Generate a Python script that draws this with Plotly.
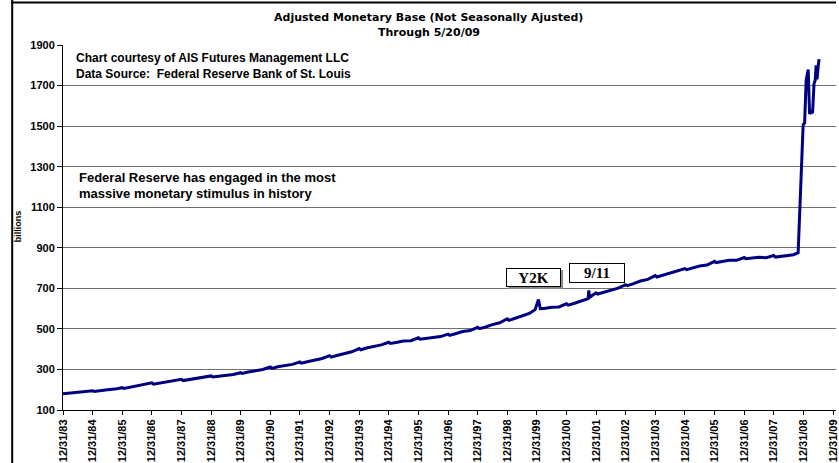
import plotly.graph_objects as go

# ---- data ----
dates = [
    "1983-12-31", "1984-03-31", "1984-06-30", "1984-09-30", "1984-12-31",
    "1985-01-20", "1985-03-31", "1985-06-30", "1985-09-30", "1985-12-31",
    "1986-01-20", "1986-03-31", "1986-06-30", "1986-09-30", "1986-12-31",
    "1987-01-20", "1987-03-31", "1987-06-30", "1987-09-30", "1987-12-31",
    "1988-01-20", "1988-03-31", "1988-06-30", "1988-09-30", "1988-12-31",
    "1989-01-20", "1989-03-31", "1989-06-30", "1989-09-30", "1989-12-31",
    "1990-01-20", "1990-03-31", "1990-06-30", "1990-09-30", "1990-12-31",
    "1991-01-20", "1991-03-31", "1991-06-30", "1991-09-30", "1991-12-31",
    "1992-01-20", "1992-03-31", "1992-06-30", "1992-09-30", "1992-12-31",
    "1993-01-20", "1993-03-31", "1993-06-30", "1993-09-30", "1993-12-31",
    "1994-01-20", "1994-03-31", "1994-06-30", "1994-09-30", "1994-12-31",
    "1995-01-20", "1995-03-31", "1995-06-30", "1995-09-30", "1995-12-31",
    "1996-01-20", "1996-03-31", "1996-06-30", "1996-09-30", "1996-12-31",
    "1997-01-20", "1997-03-31", "1997-06-30", "1997-09-30", "1997-12-31",
    "1998-01-20", "1998-03-31", "1998-06-30", "1998-09-30", "1998-12-31",
    "1999-01-20", "1999-03-31", "1999-06-30", "1999-09-30", "1999-12-10",
    "2000-01-20", "2000-02-12", "2000-03-31", "2000-06-30", "2000-09-30",
    "2000-12-31", "2001-01-20", "2001-03-31", "2001-06-30", "2001-09-24",
    "2001-10-02", "2001-10-12", "2001-10-31", "2001-12-31", "2002-01-20",
    "2002-03-31", "2002-06-30", "2002-09-30", "2002-12-31", "2003-01-20",
    "2003-03-31", "2003-06-30", "2003-09-30", "2003-12-31", "2004-01-20",
    "2004-03-31", "2004-06-30", "2004-09-30", "2004-12-31", "2005-01-20",
    "2005-03-31", "2005-06-30", "2005-09-30", "2005-12-31", "2006-01-20",
    "2006-03-31", "2006-06-30", "2006-09-30", "2006-12-31", "2007-01-20",
    "2007-03-31", "2007-06-30", "2007-09-30", "2007-12-31", "2008-01-20",
    "2008-03-31", "2008-06-30", "2008-08-31", "2008-10-27", "2008-12-28",
    "2009-01-15", "2009-02-03", "2009-02-28", "2009-03-17", "2009-04-05",
    "2009-04-23", "2009-05-11", "2009-05-25", "2009-06-06", "2009-06-17",
    "2009-06-30", "2009-07-12",
]
values = [
    180, 183, 187, 189, 195,
    191, 196, 200, 203, 210,
    206, 212, 219, 224, 234,
    227, 232, 239, 242, 251,
    245, 250, 257, 260, 268,
    263, 266, 271, 275, 284,
    280, 287, 294, 300, 312,
    305, 313, 320, 325, 337,
    331, 338, 346, 354, 368,
    361, 369, 379, 387, 403,
    397, 406, 415, 421, 434,
    428, 433, 440, 442, 456,
    449, 453, 460, 462, 474,
    468, 476, 487, 492, 508,
    501, 508, 521, 530, 550,
    542, 551, 565, 576, 595,
    645, 600, 601, 607, 608,
    624, 617, 625, 638, 649,
    690, 655, 661, 678, 672,
    680, 692, 701, 718, 713,
    722, 736, 744, 763, 756,
    764, 776, 783, 797, 792,
    799, 810, 815, 833, 827,
    832, 838, 838, 852, 846,
    849, 853, 851, 862, 854,
    858, 860, 866, 876, 1507,
    1515, 1725, 1779, 1560, 1570,
    1565, 1710, 1725, 1800, 1730,
    1790, 1830,
]

tick_dates = [f"{y}-12-31" for y in range(1983, 2010)]
tick_labels = [f"12/31/{str(y)[2:]}" for y in range(1983, 2010)]
y_ticks = list(range(100, 2000, 200))

title_lines = ["Adjusted Monetary Base (Not Seasonally Ajusted)", "Through 5/20/09"]
note_lines = ["Chart courtesy of AIS Futures Management LLC",
              "Data Source:&nbsp; Federal Reserve Bank of St. Louis"]
comment_lines = ["Federal Reserve has engaged in the most",
                 "massive monetary stimulus in history"]

# ---- layout geometry (pixels) ----
W, H = 839, 463
L, R, T, B = 63, 839, 45, 410
FONT = "Liberation Sans, Arial, sans-serif"
WIDE = "DejaVu Sans, Liberation Sans, sans-serif"
SERIF = "Liberation Serif, Times New Roman, serif"


def px(x):
    return (x - L) / (R - L)


def py(y):
    return (B - y) / (B - T)


fig = go.Figure()
fig.add_trace(go.Scatter(x=dates, y=values, mode="lines",
                         line=dict(color="#000080", width=3),
                         hoverinfo="skip", showlegend=False))

annotations = []
for i, t in enumerate(title_lines):
    annotations.append(dict(x=px(430), y=py(18 + 15 * i), xref="paper", yref="paper",
                            text=t, showarrow=False, xanchor="center", yanchor="middle",
                            font=dict(family=WIDE, size=11, color="black", weight="bold")))
for i, t in enumerate(note_lines):
    annotations.append(dict(x=px(74), y=py(58 + 16 * i), xref="paper", yref="paper",
                            text=t, showarrow=False, xanchor="left", yanchor="middle",
                            font=dict(family=FONT, size=12, color="black", weight="bold")))
for i, t in enumerate(comment_lines):
    annotations.append(dict(x=px(77), y=py(178 + 15.5 * i), xref="paper", yref="paper",
                            text=t, showarrow=False, xanchor="left", yanchor="middle",
                            font=dict(family=FONT, size=13, color="black", weight="bold")))
annotations.append(dict(x=px(18), y=py(226), xref="paper", yref="paper", text="billions",
                        showarrow=False, textangle=-90, xanchor="center", yanchor="middle",
                        font=dict(family=FONT, size=9, color="black", weight="bold")))
annotations.append(dict(x=px(535.5), y=py(277.5), xref="paper", yref="paper", text="Y2K",
                        showarrow=False, xanchor="center", yanchor="middle",
                        width=51, height=15, borderpad=1, bordercolor="black", borderwidth=1,
                        bgcolor="white",
                        font=dict(family=SERIF, size=15, color="black", weight="bold")))
annotations.append(dict(x=px(599), y=py(273), xref="paper", yref="paper", text="9/11",
                        showarrow=False, xanchor="center", yanchor="middle",
                        width=52, height=16, borderpad=1, bordercolor="black", borderwidth=1,
                        bgcolor="white",
                        font=dict(family=SERIF, size=15, color="black", weight="bold")))

shapes = [
    dict(type="line", xref="paper", yref="paper", x0=px(12), x1=px(12), y0=py(0), y1=py(463),
         line=dict(color="black", width=2)),
    dict(type="line", xref="paper", yref="paper", x0=px(11), x1=px(839), y0=py(2.5), y1=py(2.5),
         line=dict(color="black", width=2)),
    # shadow of the Y2K box
    dict(type="line", xref="paper", yref="paper", x0=px(510), x1=px(564), y0=py(288), y1=py(288),
         line=dict(color="#888888", width=2)),
    dict(type="line", xref="paper", yref="paper", x0=px(564), x1=px(564), y0=py(270), y1=py(288),
         line=dict(color="#888888", width=2)),
]

fig.update_layout(
    width=W, height=H,
    margin=dict(l=L, r=W - R, t=T, b=H - B, pad=0),
    paper_bgcolor="white", plot_bgcolor="white",
    showlegend=False,
    annotations=annotations,
    shapes=shapes,
    xaxis=dict(type="date", range=["1983-12-31", "2010-02-06"],
               tickmode="array", tickvals=tick_dates, ticktext=tick_labels,
               tickangle=-90, ticks="outside", ticklen=4, tickcolor="black",
               ticklabeloverflow="allow",
               showline=True, linecolor="black", linewidth=1,
               showgrid=False, zeroline=False,
               tickfont=dict(family=FONT, size=11, color="black", weight="bold")),
    yaxis=dict(range=[100, 1900], tickmode="array", tickvals=y_ticks,
               ticks="outside", ticklen=5, tickcolor="black",
               showline=True, linecolor="black", linewidth=1,
               showgrid=True, gridcolor="#707070", gridwidth=1, zeroline=False,
               tickfont=dict(family=FONT, size=11, color="black", weight="bold")),
)

fig.write_html("out.html")
